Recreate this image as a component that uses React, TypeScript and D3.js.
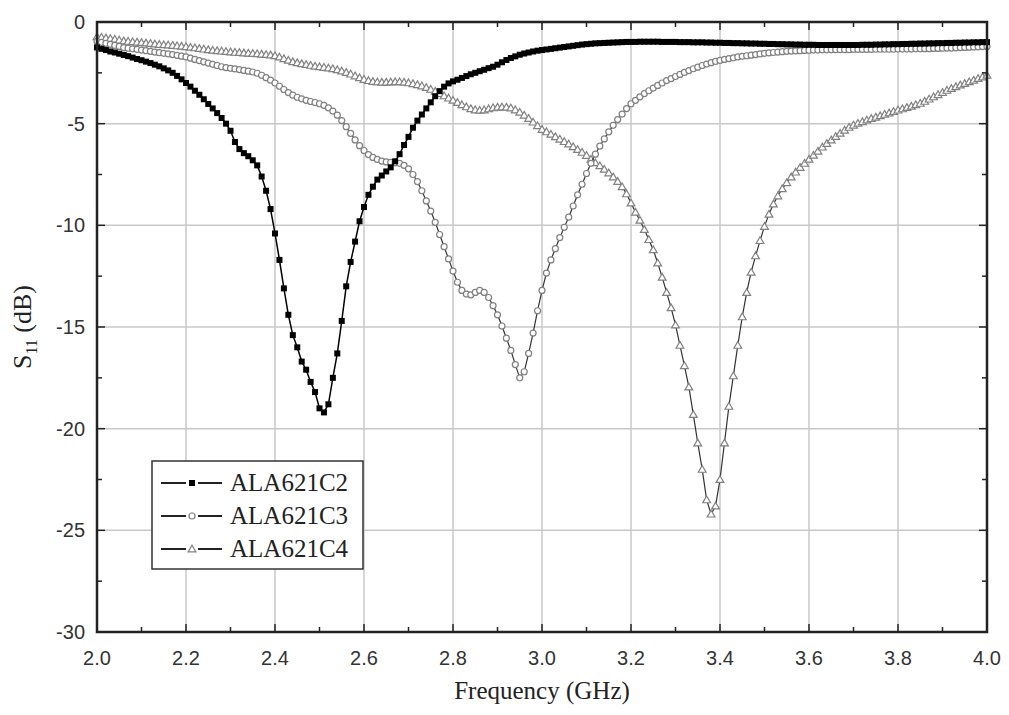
import React from 'react';
import * as d3 from 'd3';

// frequency grid, GHz (0.01 GHz sweep step)
const freqs = d3.range(0, 201).map((i) => +(2 + i * 0.01).toFixed(2));

const s11C2 = [
  -1.25, -1.32, -1.38, -1.45, -1.5, -1.56, -1.62, -1.68, -1.75, -1.82,
  -1.88, -1.95, -2.02, -2.1, -2.18, -2.28, -2.38, -2.5, -2.65, -2.82,
  -3.0, -3.18, -3.38, -3.58, -3.8, -4.03, -4.25, -4.48, -4.72, -5.0,
  -5.35, -5.9, -6.25, -6.45, -6.6, -6.8, -7.05, -7.6, -8.3, -9.2,
  -10.4, -11.7, -13.1, -14.4, -15.4, -16.0, -16.7, -17.1, -17.7, -18.2,
  -19.0, -19.2, -18.8, -17.5, -16.3, -14.7, -13.0, -11.8, -10.8, -9.8,
  -9.1, -8.5, -8.1, -7.75, -7.55, -7.35, -7.15, -6.85, -6.5, -6.05,
  -5.65, -5.2, -4.85, -4.55, -4.25, -3.95, -3.65, -3.4, -3.18, -3.02,
  -2.92, -2.84, -2.75, -2.66, -2.57, -2.5, -2.42, -2.35, -2.27, -2.2,
  -2.1, -1.98, -1.87, -1.77, -1.69, -1.61, -1.55, -1.5, -1.45, -1.41,
  -1.38, -1.35, -1.32, -1.29, -1.26, -1.23, -1.2, -1.17, -1.14, -1.11,
  -1.09, -1.07, -1.05, -1.04, -1.03, -1.02, -1.01, -1.0, -0.99, -0.98,
  -0.98, -0.98, -0.97, -0.97, -0.97, -0.97, -0.97, -0.98, -0.98, -0.98,
  -0.98, -0.99, -0.99, -0.99, -1.0, -1.0, -1.0, -1.01, -1.01, -1.02,
  -1.02, -1.03, -1.03, -1.04, -1.04, -1.05, -1.05, -1.06, -1.06, -1.07,
  -1.07, -1.08, -1.08, -1.09, -1.09, -1.1, -1.1, -1.11, -1.11, -1.12,
  -1.12, -1.12, -1.13, -1.13, -1.13, -1.13, -1.13, -1.13, -1.13, -1.13,
  -1.13, -1.13, -1.12, -1.12, -1.12, -1.11, -1.11, -1.1, -1.1, -1.09,
  -1.09, -1.08, -1.08, -1.07, -1.07, -1.06, -1.06, -1.05, -1.05, -1.04,
  -1.04, -1.03, -1.03, -1.02, -1.02, -1.01, -1.01, -1.0, -1.0, -0.99,
  -0.99,
];

const s11C3 = [
  -0.95, -1.0, -1.05, -1.1, -1.15, -1.2, -1.26, -1.29, -1.32, -1.35,
  -1.38, -1.41, -1.44, -1.48, -1.51, -1.54, -1.57, -1.6, -1.64, -1.68,
  -1.72, -1.78, -1.84, -1.9, -1.96, -2.02, -2.08, -2.14, -2.2, -2.24,
  -2.28, -2.31, -2.34, -2.38, -2.42, -2.46, -2.52, -2.62, -2.74, -2.86,
  -3.0, -3.16, -3.32, -3.47, -3.6, -3.7, -3.78, -3.85, -3.91, -3.96,
  -4.02, -4.1, -4.22, -4.38, -4.58, -4.85, -5.15, -5.48, -5.8, -6.08,
  -6.32, -6.52, -6.66, -6.76, -6.84, -6.88, -6.9, -6.92, -6.95, -7.05,
  -7.22, -7.5, -7.85, -8.3, -8.8, -9.3, -9.85, -10.45, -11.05, -11.65,
  -12.25, -12.8, -13.2, -13.38, -13.42, -13.3, -13.2, -13.3, -13.55, -13.95,
  -14.4, -14.95, -15.55, -16.15, -16.85, -17.5, -17.2, -16.3, -15.3, -14.2,
  -13.2, -12.35, -11.7, -11.15, -10.6, -10.1, -9.6, -9.05, -8.5, -7.98,
  -7.45, -6.95, -6.5, -6.1, -5.75, -5.4, -5.08, -4.8, -4.53, -4.26,
  -4.02, -3.85, -3.68, -3.52, -3.38, -3.25, -3.12, -3.0, -2.88, -2.78,
  -2.68, -2.58, -2.48, -2.39, -2.3, -2.22, -2.14, -2.07, -2.0, -1.94,
  -1.89, -1.84, -1.8, -1.76, -1.72, -1.69, -1.66, -1.63, -1.6, -1.57,
  -1.54, -1.52, -1.5, -1.48, -1.46, -1.44, -1.43, -1.42, -1.41, -1.4,
  -1.39, -1.38, -1.38, -1.37, -1.37, -1.37, -1.36, -1.36, -1.36, -1.36,
  -1.35, -1.35, -1.35, -1.35, -1.35, -1.34, -1.34, -1.34, -1.34, -1.34,
  -1.33, -1.33, -1.33, -1.33, -1.32, -1.32, -1.31, -1.31, -1.3, -1.3,
  -1.29, -1.28, -1.28, -1.27, -1.26, -1.25, -1.24, -1.23, -1.22, -1.21,
  -1.2,
];

const s11C4 = [
  -0.72, -0.75, -0.78, -0.81, -0.85, -0.89, -0.93, -0.95, -0.97, -0.99,
  -1.01, -1.03, -1.05, -1.08, -1.1, -1.12, -1.13, -1.15, -1.17, -1.19,
  -1.21, -1.24, -1.27, -1.3, -1.33, -1.36, -1.39, -1.41, -1.43, -1.45,
  -1.47, -1.49, -1.5, -1.52, -1.53, -1.55, -1.56, -1.58, -1.6, -1.62,
  -1.66, -1.72, -1.8, -1.88, -1.95, -2.0, -2.05, -2.09, -2.13, -2.17,
  -2.2, -2.23, -2.26, -2.3, -2.35, -2.41, -2.48, -2.56, -2.65, -2.74,
  -2.82, -2.88, -2.92, -2.95, -2.96, -2.96, -2.95, -2.94, -2.94, -2.96,
  -2.99, -3.03, -3.08, -3.14, -3.22, -3.31, -3.41, -3.52, -3.63, -3.74,
  -3.85, -3.96, -4.07, -4.17, -4.26, -4.32, -4.34, -4.32, -4.27, -4.22,
  -4.19, -4.18, -4.19, -4.23, -4.32, -4.44, -4.58, -4.74, -4.92, -5.1,
  -5.28, -5.4, -5.52, -5.64, -5.76, -5.88, -6.0, -6.13, -6.27, -6.41,
  -6.56, -6.75, -6.92, -7.07, -7.24, -7.42, -7.62, -7.84, -8.1, -8.45,
  -8.9, -9.35, -9.75, -10.2, -10.7, -11.2, -11.85, -12.55, -13.3, -14.05,
  -14.9, -15.9, -16.9, -17.95, -19.3, -20.7, -22.0, -23.5, -24.2, -23.8,
  -22.5, -20.7, -18.9, -17.4, -15.9, -14.5, -13.3, -12.3, -11.5, -10.75,
  -10.05, -9.45, -8.95, -8.55, -8.2, -7.9, -7.62, -7.38, -7.15, -6.95,
  -6.75, -6.55, -6.35, -6.15, -5.97, -5.8, -5.63, -5.47, -5.32, -5.18,
  -5.07, -4.98, -4.9, -4.82, -4.75, -4.68, -4.61, -4.54, -4.47, -4.4,
  -4.33, -4.27, -4.2, -4.14, -4.07, -4.0, -3.9, -3.79, -3.68, -3.57,
  -3.46, -3.36, -3.27, -3.18, -3.1, -3.02, -2.94, -2.86, -2.78, -2.7,
  -2.62,
];

const seriesNames = ['ALA621C2', 'ALA621C3', 'ALA621C4'];
const xTicks = [2.0, 2.2, 2.4, 2.6, 2.8, 3.0, 3.2, 3.4, 3.6, 3.8, 4.0];
const yTicks = [0, -5, -10, -15, -20, -25, -30];

const W = 1009;
const H = 715;
const left = 97;
const right = 987;
const top = 22;
const bottom = 632;

const serif = '"Liberation Serif", "Times New Roman", serif';
const sans = '"Liberation Sans", Arial, sans-serif';

const triangle = d3.symbol(d3.symbolTriangle, 26)() as string;

const Marker = ({ kind, x, y }: { kind: number; x: number; y: number }) => {
  if (kind === 0) {
    return <rect x={x - 3} y={y - 3} width={6} height={6} fill="#000" />;
  }
  if (kind === 1) {
    return <circle cx={x} cy={y} r={3} fill="#fff" stroke="#808080" strokeWidth={1.2} />;
  }
  return (
    <path
      d={triangle}
      transform={`translate(${x},${y + 0.7})`}
      fill="#fff"
      stroke="#808080"
      strokeWidth={1.2}
    />
  );
};

export default function App() {
  const x = d3.scaleLinear().domain([2, 4]).range([left, right]);
  const y = d3.scaleLinear().domain([-30, 0]).range([bottom, top]);

  const series = [s11C2, s11C3, s11C4];
  const line = d3
    .line<number>()
    .x((_, i) => x(freqs[i]))
    .y((d) => y(d));

  const xMinor = d3.range(21).map((i) => 2 + i * 0.1);
  const yMinor = d3.range(13).map((i) => -i * 2.5);

  // draw C4, C3 then C2 so the black trace sits on top
  const order = [2, 1, 0];

  return (
    <div>
      <style>{`body{margin:0;background:#fff}`}</style>
      <svg width={W} height={H} style={{ display: 'block', background: '#fff' }}>
        {/* grid */}
        {xTicks.slice(1, -1).map((t) => (
          <line key={'gx' + t} x1={x(t)} x2={x(t)} y1={top} y2={bottom} stroke="#c8c8c8" strokeWidth={1.5} />
        ))}
        {yTicks.slice(1, -1).map((t) => (
          <line key={'gy' + t} x1={left} x2={right} y1={y(t)} y2={y(t)} stroke="#c8c8c8" strokeWidth={1.5} />
        ))}

        {/* traces */}
        {order.map((k) => (
          <g key={'s' + k}>
            <path d={line(series[k]) as string} fill="none" stroke={k === 0 ? '#000' : '#333'} strokeWidth={k === 0 ? 1.5 : 1.2} />
            {series[k].map((v, i) => (
              <Marker key={i} kind={k} x={x(freqs[i])} y={y(v)} />
            ))}
          </g>
        ))}

        {/* frame */}
        <rect x={left} y={top} width={right - left} height={bottom - top} fill="none" stroke="#222" strokeWidth={2.5} />

        {/* ticks (inward) */}
        {xMinor.map((t, i) => (
          <g key={'xt' + i}>
            <line x1={x(t)} x2={x(t)} y1={bottom} y2={bottom - (i % 2 === 0 ? 8 : 5)} stroke="#222" strokeWidth={1.5} />
            <line x1={x(t)} x2={x(t)} y1={top} y2={top + (i % 2 === 0 ? 8 : 5)} stroke="#222" strokeWidth={1.5} />
          </g>
        ))}
        {yMinor.map((t, i) => (
          <g key={'yt' + i}>
            <line x1={left} x2={left + (i % 2 === 0 ? 8 : 5)} y1={y(t)} y2={y(t)} stroke="#222" strokeWidth={1.5} />
            <line x1={right} x2={right - (i % 2 === 0 ? 8 : 5)} y1={y(t)} y2={y(t)} stroke="#222" strokeWidth={1.5} />
          </g>
        ))}

        {/* tick labels */}
        {xTicks.map((t) => (
          <text key={'xl' + t} x={x(t)} y={bottom + 33} textAnchor="middle" fontFamily={sans} fontSize={20} fill="#333">
            {t.toFixed(1)}
          </text>
        ))}
        {yTicks.map((t) => (
          <text key={'yl' + t} x={left - 12} y={y(t) + 7} textAnchor="end" fontFamily={sans} fontSize={20} fill="#333">
            {t}
          </text>
        ))}

        {/* axis titles */}
        <text x={(left + right) / 2} y={699} textAnchor="middle" fontFamily={serif} fontSize={25} fill="#222">
          Frequency (GHz)
        </text>
        <text transform={`translate(31,${(top + bottom) / 2}) rotate(-90)`} textAnchor="middle" fontFamily={serif} fontSize={26} fill="#222">
          S<tspan dy={6} fontSize={16}>11</tspan>
          <tspan dy={-6}> (dB)</tspan>
        </text>

        {/* legend */}
        <rect x={152} y={461} width={211} height={108} fill="#fff" stroke="#333" strokeWidth={1.5} />
        {seriesNames.map((name, k) => {
          const ly = 483 + k * 33;
          return (
            <g key={name}>
              <line x1={161} x2={186} y1={ly} y2={ly} stroke="#222" strokeWidth={2} />
              <line x1={198} x2={222} y1={ly} y2={ly} stroke="#222" strokeWidth={2} />
              <Marker kind={k} x={192} y={ly} />
              <text x={230} y={ly + 8} fontFamily={serif} fontSize={25} fill="#222">
                {name}
              </text>
            </g>
          );
        })}
      </svg>
    </div>
  );
}
